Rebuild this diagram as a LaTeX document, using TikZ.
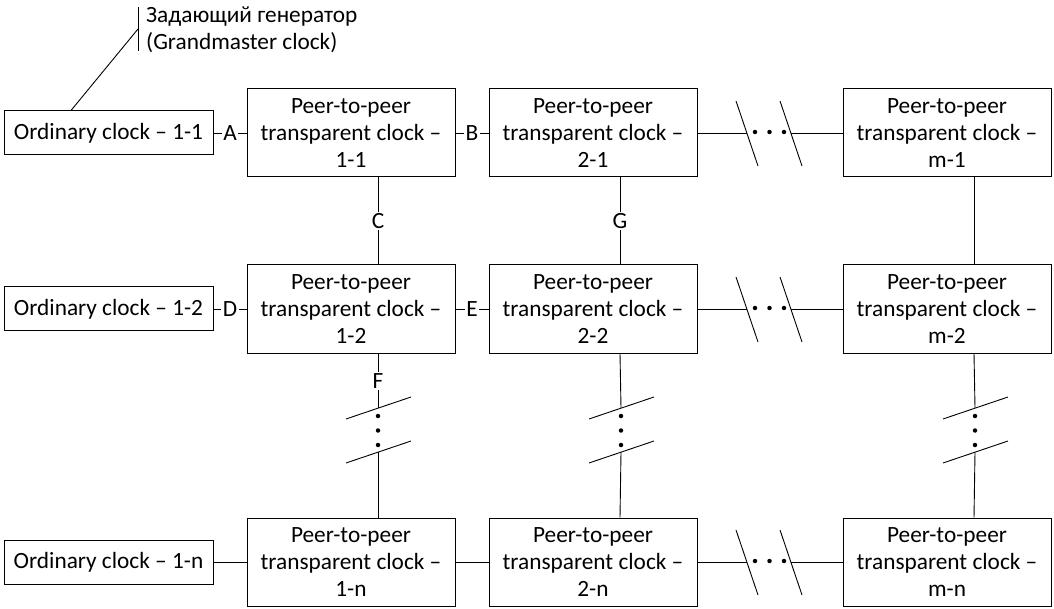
\documentclass[tikz,border=0pt]{standalone}
\usepackage{fontspec}
\setmainfont{Carlito}
\begin{document}
\begin{tikzpicture}[x=1pt,y=-1pt,
  every node/.style={font=\fontsize{23.3}{27}\selectfont},
  ord/.style={draw, line width=1pt, minimum width=209pt, minimum height=44pt, inner sep=0pt},
  ptp/.style={draw, line width=1pt, minimum width=208pt, minimum height=88pt, inner sep=0pt, align=center},
  lbl/.style={fill=white, inner sep=1.5pt},
  conn/.style={line width=0.9pt},
  brk/.style={line width=0.9pt},
  dotm/.style={circle, fill, inner sep=0pt, minimum size=4.5pt}
]
\useasboundingbox (0,0) rectangle (1054,609);

% ordinary clocks
\node[ord] (o1) at (108.5,133) {Ordinary clock – 1-1};
\node[ord] (o2) at (108.5,309) {Ordinary clock – 1-2};
\node[ord] (on) at (108.5,562) {Ordinary clock – 1-n};

% transparent clocks
\node[ptp] (p11) at (351,133) {Peer-to-peer\\transparent clock –\\1-1};
\node[ptp] (p21) at (593,133) {Peer-to-peer\\transparent clock –\\2-1};
\node[ptp] (pm1) at (947,133) {Peer-to-peer\\transparent clock –\\m-1};
\node[ptp] (p12) at (351,309) {Peer-to-peer\\transparent clock –\\1-2};
\node[ptp] (p22) at (593,309) {Peer-to-peer\\transparent clock –\\2-2};
\node[ptp] (pm2) at (947,309) {Peer-to-peer\\transparent clock –\\m-2};
\node[ptp] (p1n) at (351,562) {Peer-to-peer\\transparent clock –\\1-n};
\node[ptp] (p2n) at (593,562) {Peer-to-peer\\transparent clock –\\2-n};
\node[ptp] (pmn) at (947,562) {Peer-to-peer\\transparent clock –\\m-n};

% grandmaster annotation
\node[anchor=west, align=left, inner sep=0pt] (gm) at (146,29.5) {Задающий генератор\\(Grandmaster clock)};
\coordinate (bt) at (138,7);
\coordinate (bb) at (138,51);
\coordinate (bm) at (138,29);
\draw[conn] (bt) -- (bb);
\draw[conn] (bm) -- ([xshift=-37.5pt]o1.north);

% horizontal links
\draw[conn] (o1) -- node[lbl]{A} (p11);
\draw[conn] (p11) -- node[lbl]{B} (p21);
\draw[conn] (o2) -- node[lbl]{D} (p12);
\draw[conn] (p12) -- node[lbl]{E} (p22);
\draw[conn] (on) -- (p1n);
\draw[conn] (p1n) -- (p2n);

% vertical links
\draw[conn] ([xshift=27pt]p11.south) -- node[lbl]{C} ([xshift=27pt]p12.north);
\draw[conn] ([xshift=27pt]p21.south) -- node[lbl]{G} ([xshift=27pt]p22.north);
\draw[conn] ([xshift=27pt]pm1.south) -- ([xshift=27pt]pm2.north);

% horizontal breaks
\foreach \r/\y in {1/133, 2/309, n/562} {
  \coordinate (h\r a) at (747,\y);
  \coordinate (h\r b) at (791,\y);
  \draw[brk] (736,\y-32) -- (758,\y+33);
  \draw[brk] (780,\y-32) -- (802,\y+33);
  \node[dotm] at (755,\y-1) {};
  \node[dotm] at (769.5,\y-1) {};
  \node[dotm] at (784,\y-1) {};
}
\draw[conn] (p21) -- (h1a);
\draw[conn] (h1b) -- (pm1);
\draw[conn] (p22) -- (h2a);
\draw[conn] (h2b) -- (pm2);
\draw[conn] (p2n) -- (hna);
\draw[conn] (hnb) -- (pmn);

% vertical breaks
\foreach \c/\x in {1/378, 2/621, m/975} {
  \coordinate (v\c a) at (\x,408);
  \coordinate (v\c b) at (\x,452);
  \draw[brk] (\x-32,419) -- (\x+33,397);
  \draw[brk] (\x-32,463) -- (\x+33,441);
  \node[dotm] at (\x,416) {};
  \node[dotm] at (\x,430.5) {};
  \node[dotm] at (\x,445) {};
}
\draw[conn] ([xshift=27pt]p12.south) -- node[lbl]{F} (v1a);
\draw[conn] (v1b) -- ([xshift=27pt]p1n.north);
\draw[conn] ([xshift=27pt]p22.south) -- (v2a);
\draw[conn] (v2b) -- ([xshift=27pt]p2n.north);
\draw[conn] ([xshift=27pt]pm2.south) -- (vma);
\draw[conn] (vmb) -- ([xshift=27pt]pmn.north);
\end{tikzpicture}
\end{document}
